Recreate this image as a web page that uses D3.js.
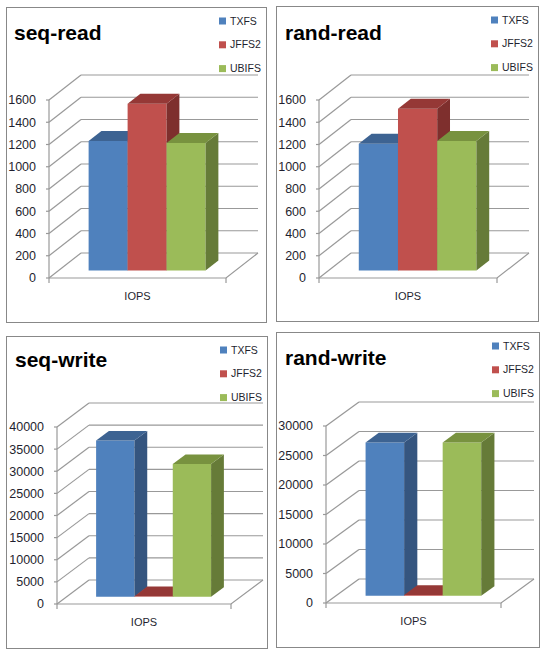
<!DOCTYPE html>
<html>
<head>
<meta charset="utf-8">
<script src="https://cdn.jsdelivr.net/npm/d3@7"></script>
<style>
  body { margin: 0; background: #fff; }
  text { font-family: "Liberation Sans", Arial, sans-serif; }
</style>
</head>
<body>
<script>
// data
var seriesNames = ["TXFS", "JFFS2", "UBIFS"];
var category = "IOPS";
var seqRead = [1165, 1500, 1145];
var randRead = [1140, 1455, 1165];
var seqWrite = [35300, 150, 30000];
var randWrite = [26000, 150, 26000];
var readTicks = [0, 200, 400, 600, 800, 1000, 1200, 1400, 1600];
var seqWriteTicks = [0, 5000, 10000, 15000, 20000, 25000, 30000, 35000, 40000];
var randWriteTicks = [0, 5000, 10000, 15000, 20000, 25000, 30000];

var front = ["#4F81BD", "#C0504D", "#9BBB59"];
var side = ["#35557F", "#7E2F2D", "#667B38"];
var top_ = ["#3D6392", "#953836", "#78923F"];

var panels = [
  {title: "seq-read", values: seqRead, ticks: readTicks,
   box: [6, 7, 260, 315], ax: 43, zero: 271, top: 93, W: 177, dx: 32, dy: -25, tx: 8, ty: 33},
  {title: "rand-read", values: randRead, ticks: readTicks,
   box: [276, 6, 262, 315], ax: 43, zero: 272, top: 94, W: 178, dx: 32, dy: -25, tx: 9, ty: 34},
  {title: "seq-write", values: seqWrite, ticks: seqWriteTicks,
   box: [6, 336, 261, 312], ax: 51, zero: 268, top: 91, W: 174, dx: 32, dy: -24, tx: 9, ty: 31},
  {title: "rand-write", values: randWrite, ticks: randWriteTicks,
   box: [276, 332, 263, 315], ax: 50, zero: 271, top: 94, W: 175, dx: 33, dy: -24, tx: 9, ty: 33}
];

var svg = d3.select("body").append("svg")
  .attr("width", 546)
  .attr("height", 656);

var line = d3.line();

panels.forEach(function(p) {
  var g = svg.append("g")
    .attr("transform", "translate(" + p.box[0] + "," + p.box[1] + ")");

  g.append("rect")
    .attr("x", 0.5).attr("y", 0.5)
    .attr("width", p.box[2]).attr("height", p.box[3])
    .style("fill", "#fff")
    .style("stroke", "#888")
    .style("stroke-width", "1px");

  var maxV = d3.max(p.ticks);
  var y = d3.scaleLinear().domain([0, maxV]).range([p.zero, p.top]);
  var x = d3.scaleBand().domain(seriesNames).range([0, p.W])
    .paddingInner(0).paddingOuter(0.77);

  // 3d point: u along front width, v value, w depth 0..1
  function pt(u, v, w) {
    return [p.ax + u + w * p.dx, y(v) + w * p.dy];
  }

  // back wall grid
  g.selectAll(".back").data(p.ticks).enter().append("path")
    .attr("d", function(d) { return line([pt(0, d, 1), pt(p.W, d, 1)]); })
    .style("stroke", "#999").style("stroke-width", "1.2px").style("fill", "none");

  // left wall diagonals
  g.selectAll(".side").data(p.ticks).enter().append("path")
    .attr("d", function(d) { return line([pt(0, d, 0), pt(0, d, 1)]); })
    .style("stroke", "#999").style("stroke-width", "1.2px").style("fill", "none");

  // floor
  g.append("path")
    .attr("d", line([pt(0, 0, 0), pt(p.W, 0, 0), pt(p.W, 0, 1)]))
    .style("stroke", "#999").style("stroke-width", "1.2px").style("fill", "none");

  // front axis
  g.append("path")
    .attr("d", line([pt(0, maxV, 0), pt(0, 0, 0)]))
    .style("stroke", "#999").style("stroke-width", "1.2px").style("fill", "none");

  g.selectAll(".tick").data(p.ticks).enter().append("path")
    .attr("d", function(d) { var a = pt(0, d, 0); return line([[a[0] - 3, a[1]], a]); })
    .style("stroke", "#999").style("stroke-width", "1.2px");

  [0, p.W].forEach(function(u) {
    var a = pt(u, 0, 0);
    g.append("path").attr("d", line([a, [a[0], a[1] + 5]]))
      .style("stroke", "#999").style("stroke-width", "1.2px");
  });

  g.selectAll(".ylab").data(p.ticks).enter().append("text")
    .attr("x", p.ax - 13)
    .attr("y", function(d) { return y(d); })
    .attr("dy", "0.35em")
    .style("text-anchor", "end")
    .style("font-size", "12.5px")
    .style("fill", "#1f1f2f")
    .text(function(d) { return d; });

  g.append("text")
    .attr("x", p.ax + p.W / 2)
    .attr("y", p.zero + 18)
    .attr("dy", "0.35em")
    .style("text-anchor", "middle")
    .style("font-size", "11px")
    .style("fill", "#1f1f2f")
    .text(category);

  // bars
  var w0 = 0.3, w1 = 0.7;
  p.values.forEach(function(v, i) {
    var u0 = x(seriesNames[i]), u1 = u0 + x.bandwidth();
    g.append("path")
      .attr("d", line([pt(u0, 0, w0), pt(u1, 0, w0), pt(u1, v, w0), pt(u0, v, w0)]) + "Z")
      .style("fill", front[i]);
    g.append("path")
      .attr("d", line([pt(u1, 0, w0), pt(u1, 0, w1), pt(u1, v, w1), pt(u1, v, w0)]) + "Z")
      .style("fill", side[i]);
    g.append("path")
      .attr("d", line([pt(u0, v, w0), pt(u1, v, w0), pt(u1, v, w1), pt(u0, v, w1)]) + "Z")
      .style("fill", top_[i]);
  });

  // title
  g.append("text")
    .attr("x", p.tx)
    .attr("y", p.ty)
    .style("font-size", "21px")
    .style("font-weight", "bold")
    .style("fill", "#000")
    .text(p.title);

  // legend
  var legend = g.selectAll(".legend").data(seriesNames).enter().append("g")
    .attr("transform", function(d, i) {
      return "translate(" + (p.box[2] - 47) + "," + (14 + i * 23.8) + ")";
    });
  legend.append("rect")
    .attr("x", 0).attr("y", -3.5)
    .attr("width", 7).attr("height", 7)
    .style("fill", function(d, i) { return front[i]; });
  legend.append("text")
    .attr("x", 11)
    .attr("y", 0)
    .attr("dy", "0.35em")
    .style("font-size", "10.5px")
    .style("fill", "#1f1f2f")
    .text(function(d) { return d; });
});
</script>
</body>
</html>
